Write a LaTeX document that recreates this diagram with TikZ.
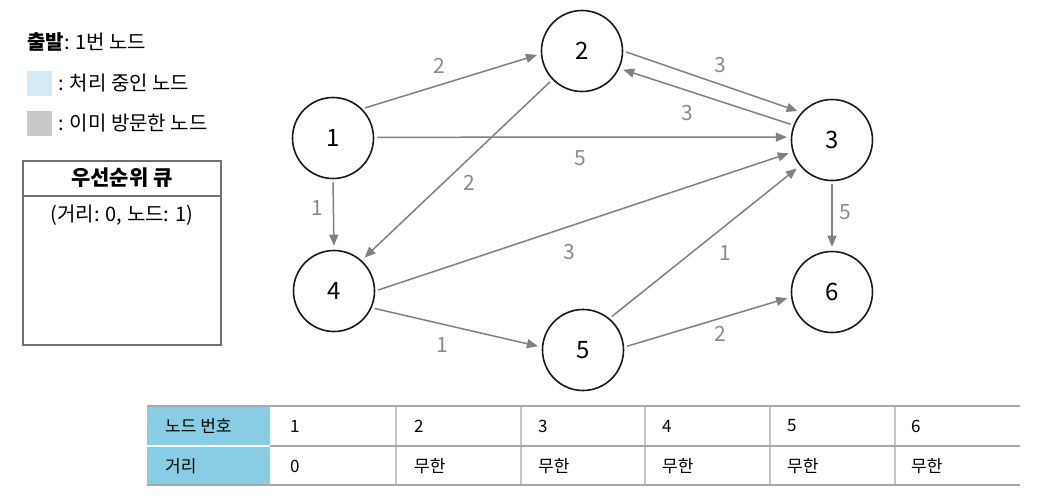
\documentclass[tikz,border=0pt]{standalone}
\usepackage{fontspec}
\setmainfont{Noto Sans CJK KR}
\usetikzlibrary{arrows.meta}
\definecolor{edgegray}{HTML}{808080}
\definecolor{lblgray}{HTML}{8A8A8A}
\definecolor{legblue}{HTML}{D4EAF5}
\definecolor{leggray}{HTML}{C8C8C8}
\definecolor{hdrblue}{HTML}{88CDE4}
\definecolor{boxgray}{HTML}{707070}
\definecolor{tabline}{HTML}{A8A8A8}
\definecolor{tabvline}{HTML}{C4C4C4}
\tikzset{
  vtx/.style={circle, draw=black!90, line width=1.6pt, minimum size=81pt, inner sep=0pt, font=\fontsize{24}{24}\selectfont},
  edge/.style={draw=edgegray, line width=1.5pt, -{Triangle[length=11pt,width=9pt]}, shorten >=4pt, shorten <=3pt},
  lbl/.style={text=lblgray, font=\fontsize{21}{21}\selectfont, inner sep=0pt},
  legtxt/.style={anchor=west, inner sep=0pt, font=\fontsize{20}{20}\selectfont},
  sq/.style={minimum size=25pt, inner sep=0pt},
  tabtxt/.style={anchor=west, inner sep=0pt, font=\fontsize{17}{17}\selectfont},
}
\begin{document}
\begin{tikzpicture}[x=1pt, y=-1pt]
\useasboundingbox (0,0) rectangle (1055,501);
% legend
\node[legtxt] (start) at (27,42) {\textbf{출발}: 1번 노드};
\node[sq, fill=legblue] (sqb) at (39,83) {};
\node[legtxt] (tb) at (58,83) {: 처리 중인 노드};
\node[sq, fill=leggray] (sqg) at (39,123) {};
\node[legtxt] (tg) at (58,123) {: 이미 방문한 노드};
% priority queue
\node[draw=boxgray, line width=2pt, minimum width=198pt, minimum height=184pt, inner sep=0pt] (q) at (122,253) {};
\draw[draw=boxgray, line width=2pt] (q.north west |- 0,196) -- (q.north east |- 0,196);
\node[font=\bfseries\fontsize{21}{21}\selectfont, inner sep=0pt] (qh) at (122,178) {우선순위 큐};
\node[font=\fontsize{20}{20}\selectfont, inner sep=0pt] (qi) at (122,215) {(거리: 0, 노드: 1)};
% graph nodes
\node[vtx] (n1) at (333,138) {1};
\node[vtx] (n2) at (582,51) {2};
\node[vtx] (n3) at (832,140) {3};
\node[vtx] (n4) at (334,291) {4};
\node[vtx] (n5) at (583,350) {5};
\node[vtx] (n6) at (832,292) {6};
% edges
\draw[edge] (n1.45) -- (n2.184);
\draw[edge] (n2.0) -- (n3.138);
\draw[edge] (n3.159) -- (n2.-25);
\draw[edge] (n1.1) -- (n3.176);
\draw[edge] (n2.224) -- (n4.48);
\draw[edge] (n1.south) -- (n4.north);
\draw[edge] (n4.0) -- (n3.197);
\draw[edge] (n4.-24) -- (n5.176);
\draw[edge] (n5.50) -- (n3.219);
\draw[edge] (n5.4) -- (n6.187);
\draw[edge] (n3.south) -- (n6.north);
% edge labels
\node[lbl] (w12) at (439,66) {2};
\node[lbl] (w23) at (720,65) {3};
\node[lbl] (w32) at (687,113) {3};
\node[lbl] (w13) at (580,158) {5};
\node[lbl] (w24) at (469,183) {2};
\node[lbl] (w14) at (317,208) {1};
\node[lbl] (w43) at (569,252) {3};
\node[lbl] (w45) at (442,345) {1};
\node[lbl] (w53) at (725,253) {1};
\node[lbl] (w56) at (720,334) {2};
\node[lbl] (w36) at (845,212) {5};
% table
\fill[hdrblue] (147,406) rectangle (270,485);
\foreach \x in {396,521,645,770,895}
  \draw[tabvline, line width=1.5pt] (\x,406) -- (\x,485);
\draw[white, line width=2pt] (147,446) -- (270,446);
\draw[tabline, line width=2pt] (270,446) -- (1020,446);
\draw[tabline, line width=2pt] (147,406) -- (1020,406);
\draw[tabline, line width=2pt] (147,485) -- (1020,485);
\node[tabtxt] (h1) at (165,426) {노드 번호};
\node[tabtxt] (h2) at (165,466) {거리};
\node[tabtxt] (a1) at (290,426) {1};
\node[tabtxt] (a2) at (414,426) {2};
\node[tabtxt] (a3) at (538,426) {3};
\node[tabtxt] (a4) at (662,426) {4};
\node[tabtxt] (a5) at (787,426) {5};
\node[tabtxt] (a6) at (911,426) {6};
\node[tabtxt] (b1) at (290,466) {0};
\node[tabtxt] (b2) at (414,466) {무한};
\node[tabtxt] (b3) at (538,466) {무한};
\node[tabtxt] (b4) at (662,466) {무한};
\node[tabtxt] (b5) at (787,466) {무한};
\node[tabtxt] (b6) at (911,466) {무한};
\end{tikzpicture}
\end{document}
